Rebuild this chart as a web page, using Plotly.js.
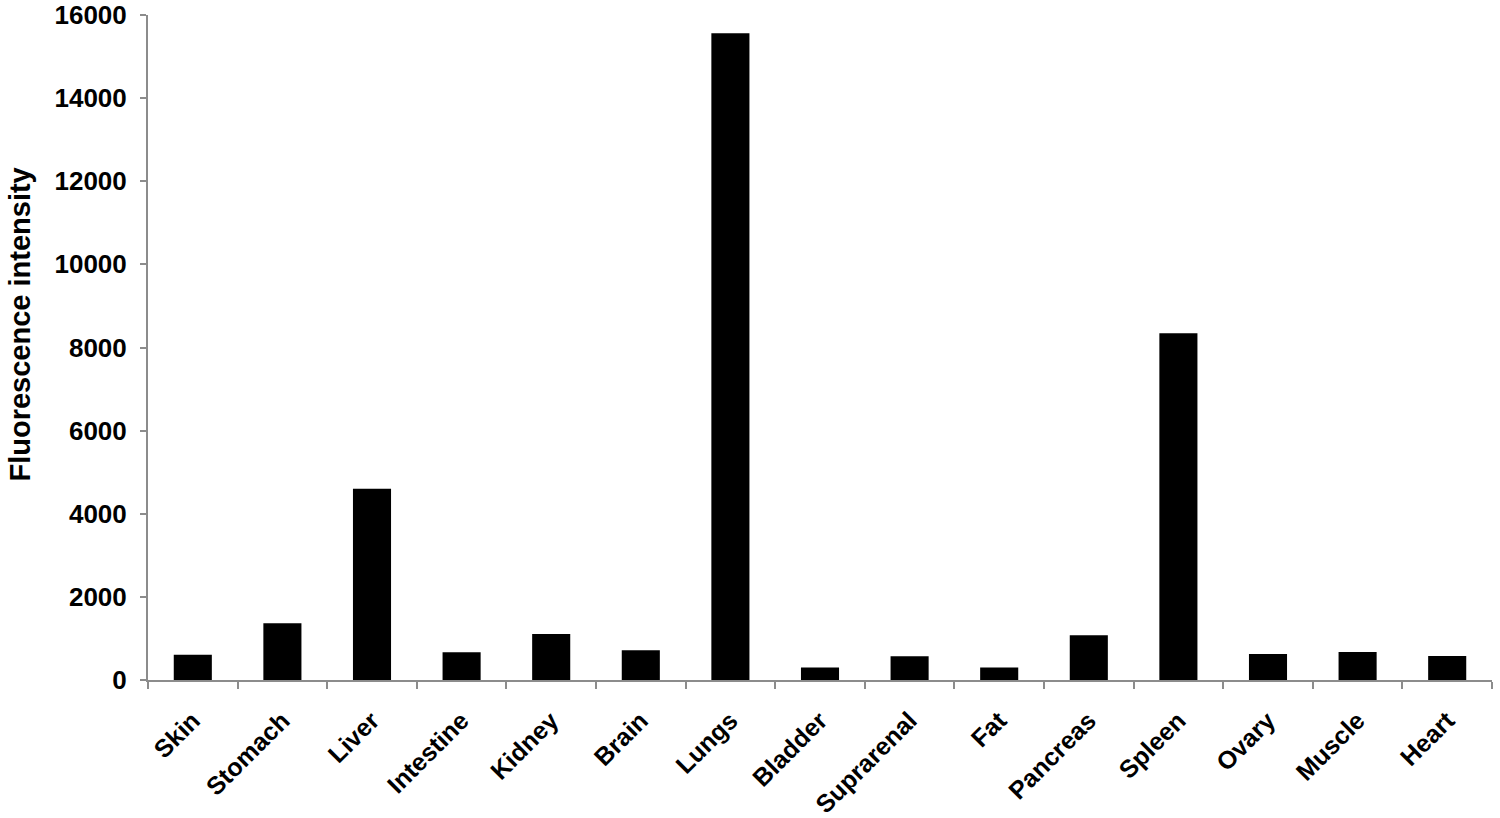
<!DOCTYPE html>
<html>
<head>
<meta charset="utf-8">
<script src="https://cdn.plot.ly/plotly-3.0.1.min.js"></script>
<style>
  body { margin: 0; background: #fff; }
  #chart { width: 1500px; height: 818px; }
</style>
</head>
<body>
<div id="chart"></div>
<script>
// organs and measured fluorescence
const organs = ['Skin', 'Stomach', 'Liver', 'Intestine', 'Kidney', 'Brain', 'Lungs', 'Bladder',
  'Suprarenal', 'Fat', 'Pancreas', 'Spleen', 'Ovary', 'Muscle', 'Heart'];
const intensity = [610, 1365, 4600, 665, 1105, 715, 15560, 300, 570, 300, 1075, 8340, 625, 675, 580];
const yTicks = [0, 2000, 4000, 6000, 8000, 10000, 12000, 14000, 16000];

const fontFam = 'Liberation Sans, Arial, sans-serif';
const axisGrey = '#8c8c8c';

const trace = {
  x: organs,
  y: intensity,
  type: 'bar',
  marker: { color: '#000', line: { width: 0 } },
  hoverinfo: 'x+y'
};

const layout = {
  width: 1500,
  height: 818,
  margin: { l: 148, r: 8, t: 15, b: 138 },
  paper_bgcolor: '#fff',
  plot_bgcolor: '#fff',
  showlegend: false,
  bargap: 0.575,
  font: { family: fontFam, color: '#000' },
  xaxis: {
    type: 'category',
    showline: true,
    linecolor: axisGrey,
    linewidth: 2,
    ticks: 'outside',
    tickson: 'boundaries',
    ticklen: 7,
    tickwidth: 2,
    tickcolor: axisGrey,
    tickangle: -45,
    ticklabelstandoff: 14,
    tickfont: { family: fontFam, size: 25, color: '#000', weight: 'bold' },
    showgrid: false,
    zeroline: false,
    automargin: false
  },
  yaxis: {
    range: [0, 16000],
    tickvals: yTicks,
    ticktext: yTicks.map(String),
    showline: true,
    linecolor: axisGrey,
    linewidth: 2,
    ticks: 'outside',
    ticklen: 6,
    tickwidth: 2,
    tickcolor: axisGrey,
    ticklabelstandoff: 8,
    tickfont: { family: fontFam, size: 26, color: '#000', weight: 'bold' },
    showgrid: false,
    zeroline: false,
    automargin: false
  },
  annotations: [{
    text: 'Fluorescence intensity',
    xref: 'paper', yref: 'paper',
    x: -0.0955, y: 0.534,
    xanchor: 'center', yanchor: 'middle',
    textangle: -90,
    showarrow: false,
    font: { family: fontFam, size: 29, color: '#000', weight: 'bold' }
  }]
};

Plotly.newPlot('chart', [trace], layout, { displayModeBar: false, staticPlot: true });
</script>
</body>
</html>
